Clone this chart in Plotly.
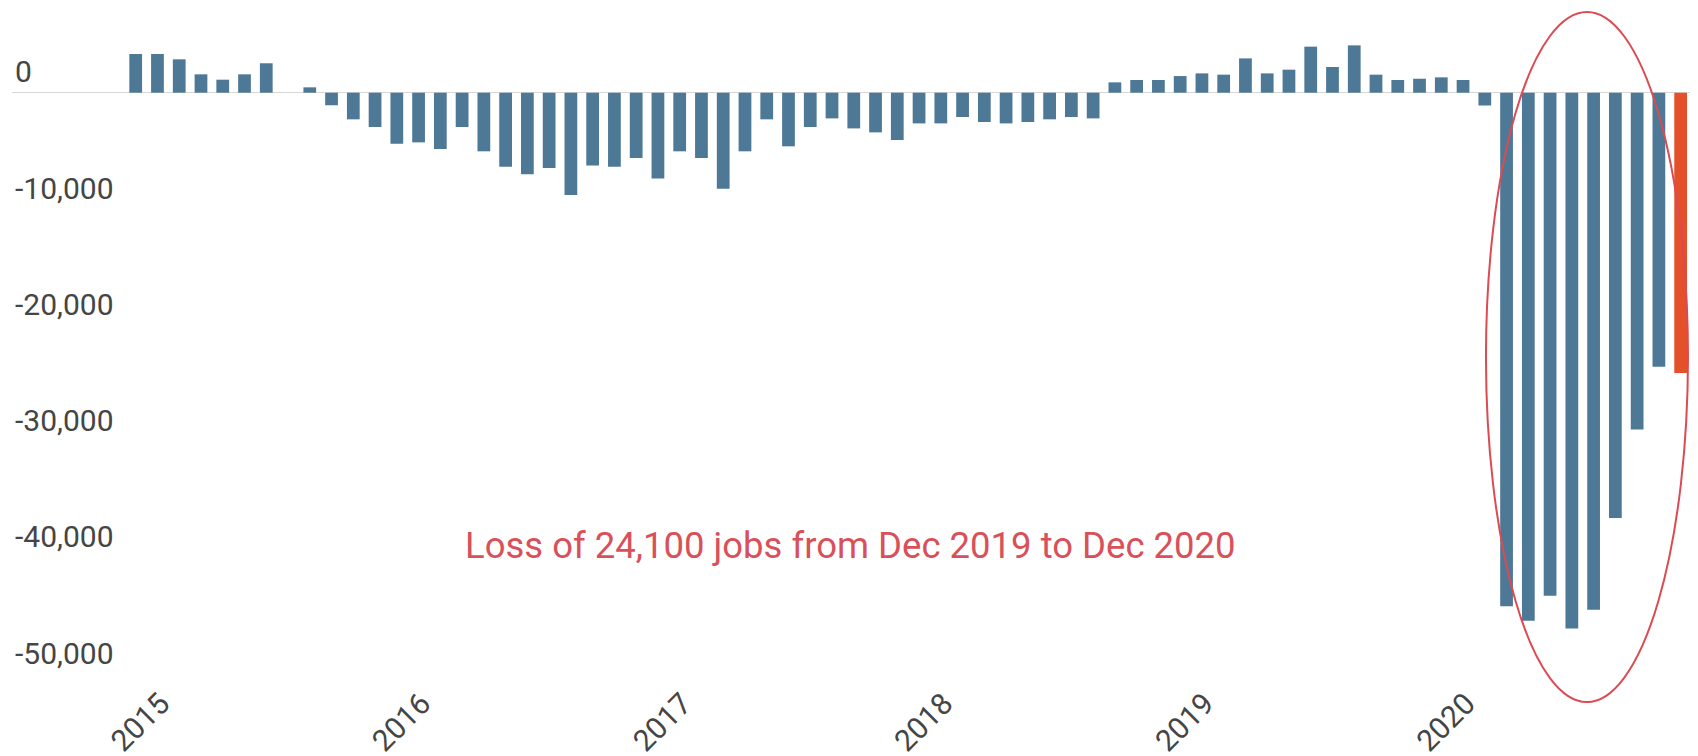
import pandas as pd
import plotly.graph_objects as go

# monthly change in jobs, Jan 2015 - Dec 2020
months = pd.date_range("2015-01-01", "2020-12-01", freq="MS").strftime("%b %Y").tolist()

jobs_2015 = [3330, 3330, 2870, 1580, 1120, 1580, 2530, 0, 460, -1080, -2290, -2950]
jobs_2016 = [-4390, -4270, -4840, -2950, -5040, -6360, -7020, -6480, -8800, -6250, -6360, -5620]
jobs_2017 = [-7370, -5040, -5620, -8250, -5040, -2290, -4610, -2950, -2210, -3070, -3410, -4070]
jobs_2018 = [-2640, -2640, -2090, -2520, -2640, -2520, -2290, -2090, -2210, 890, 1090, 1090]
jobs_2019 = [1430, 1660, 1550, 2950, 1660, 1980, 3960, 2210, 4070, 1550, 1090, 1200]
jobs_2020 = [1320, 1090, -1100, -44150, -45400, -43260, -46080, -44460, -36560, -28950, -23570, -24100]
jobs = jobs_2015 + jobs_2016 + jobs_2017 + jobs_2018 + jobs_2019 + jobs_2020

year_ticks = ["Jan 2015", "Jan 2016", "Jan 2017", "Jan 2018", "Jan 2019", "Jan 2020"]
year_labels = ["2015", "2016", "2017", "2018", "2019", "2020"]
y_ticks = [0, -10000, -20000, -30000, -40000, -50000]
y_labels = [f"{v:,}" for v in y_ticks]

note = "Loss of 24,100 jobs from Dec 2019 to Dec 2020"

BLUE = "#4d7896"
RED = "#e4502a"
bar_colors = [BLUE] * (len(jobs) - 1) + [RED]

fig = go.Figure()

fig.add_trace(go.Bar(
    x=months,
    y=jobs,
    marker=dict(color=bar_colors, line=dict(width=0)),
    hovertemplate="%{x}: %{y:,}<extra></extra>",
))

# circle around the 2020 drop
fig.add_shape(
    type="circle",
    xref="paper", yref="paper",
    x0=0.8784, x1=0.9988,
    y0=-0.0206, y1=0.9941,
    line=dict(color="#dc4a52", width=2),
)

fig.add_annotation(
    x=32.83, y=-38900,
    text=note,
    showarrow=False,
    font=dict(family="Roboto", size=36.5, color="#d9505a"),
)

fig.update_layout(
    # the page body keeps an 8px margin, so the figure is made to fit inside it
    width=1682,
    height=748,
    showlegend=False,
    plot_bgcolor="white",
    paper_bgcolor="white",
    margin=dict(l=4, r=0, t=0, b=68),
    bargap=0.414,
    font=dict(family="Roboto", color="#454545"),
    xaxis=dict(
        type="category",
        range=[-5.685, 71.43],
        tickmode="array",
        tickvals=year_ticks,
        ticktext=year_labels,
        tickangle=-45,
        ticklabelshift=25,
        ticklabelstandoff=-9,
        tickfont=dict(size=30, color="#454545"),
        showgrid=False,
        showline=False,
        ticks="",
        automargin=False,
    ),
    yaxis=dict(
        range=[-51187, 7283],
        tickmode="array",
        tickvals=y_ticks,
        ticktext=y_labels,
        ticklabelposition="inside top",
        tickfont=dict(size=30, color="#454545"),
        showgrid=False,
        zeroline=True,
        zerolinecolor="#d6d6d6",
        zerolinewidth=1.2,
        showline=False,
        ticks="",
        automargin=False,
    ),
)

fig.write_html("out.html")
